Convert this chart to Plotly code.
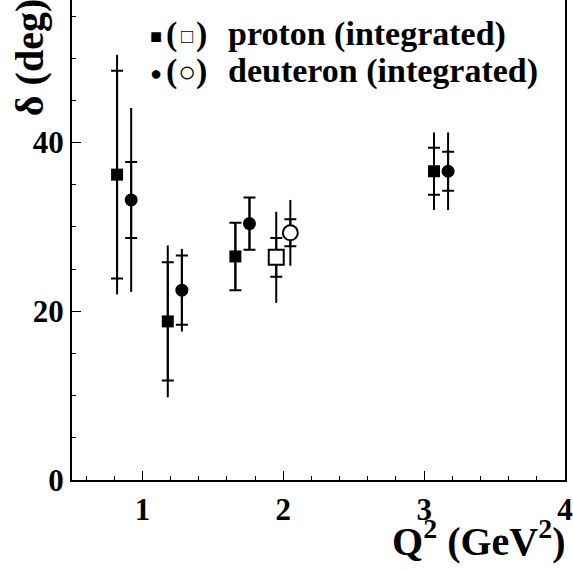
import plotly.graph_objects as go

# ---- data ----
proton_q2 = [0.82, 1.18, 1.66, 3.07]
proton_delta = [36.2, 18.8, 26.5, 36.6]
proton_stat = [12.3, 7.0, 4.0, 2.8]
proton_tot = [14.2, 9.0, 4.0, 4.6]

deuteron_q2 = [0.92, 1.28, 1.76, 3.17]
deuteron_delta = [33.2, 22.5, 30.4, 36.6]
deuteron_stat = [4.5, 4.1, 3.1, 2.3]
deuteron_tot = [10.9, 4.9, 3.1, 4.6]

proton_open_q2 = [1.95]
proton_open_delta = [26.4]
proton_open_stat = [2.3]
proton_open_tot = [5.4]

deuteron_open_q2 = [2.05]
deuteron_open_delta = [29.3]
deuteron_open_stat = [1.6]
deuteron_open_tot = [3.9]

x_tickvals = [1, 2, 3, 4]
y_tickvals = [0, 20, 40]

W, H = 573, 571
L, R, T, B = 72, 6, 0, 91
PW, PH = W - L - R, H - T - B

FONT = "Liberation Serif"


def px(xp):
    return (xp - L) / PW


def py(yp):
    return (H - B - yp) / PH


fig = go.Figure()


def add_series(xs, ys, stat, tot, symbol, size, fill, name):
    # total uncertainty: plain line without caps
    fig.add_trace(go.Scatter(
        x=xs, y=ys, mode="markers", marker=dict(size=0.1, color="rgba(0,0,0,0)"),
        error_y=dict(type="data", array=tot, visible=True, color="black", thickness=2, width=0),
        showlegend=False, hoverinfo="skip"))
    # statistical uncertainty: short cross bars + marker
    fig.add_trace(go.Scatter(
        x=xs, y=ys, mode="markers", name=name,
        marker=dict(symbol=symbol, size=size, color=fill,
                    line=dict(color="black", width=2 if fill == "white" else 0)),
        error_y=dict(type="data", array=stat, visible=True, color="black", thickness=2, width=6),
        showlegend=False))


add_series(proton_q2, proton_delta, proton_stat, proton_tot, "square", 12, "black", "proton")
add_series(deuteron_q2, deuteron_delta, deuteron_stat, deuteron_tot, "circle", 13, "black", "deuteron")
add_series(proton_open_q2, proton_open_delta, proton_open_stat, proton_open_tot, "square", 15, "white", "proton (open)")
add_series(deuteron_open_q2, deuteron_open_delta, deuteron_open_stat, deuteron_open_tot, "circle", 15, "white", "deuteron (open)")

tickfont = dict(family=FONT, size=31, color="black", weight="bold")

fig.update_xaxes(
    range=[0.5, 4], tickvals=x_tickvals, ticktext=[str(v) for v in x_tickvals],
    ticks="inside", ticklen=9, tickwidth=1, tickcolor="black",
    minor=dict(dtick=0.2, tick0=0, ticks="inside", ticklen=4, tickwidth=1, tickcolor="black"),
    showline=True, linecolor="black", linewidth=2, showgrid=False, zeroline=False,
    tickfont=tickfont, ticklabelstandoff=1, ticklabeloverflow="allow")
fig.update_yaxes(
    range=[0, 56.9], tickvals=y_tickvals, ticktext=[str(v) for v in y_tickvals],
    ticks="inside", ticklen=9, tickwidth=1, tickcolor="black",
    minor=dict(dtick=5, tick0=0, ticks="inside", ticklen=4, tickwidth=1, tickcolor="black"),
    showline=True, linecolor="black", linewidth=2, mirror=True, showgrid=False, zeroline=False,
    tickfont=tickfont, ticklabelstandoff=0, ticklabeloverflow="allow")

ann = []
# axis titles
ann.append(dict(x=px(570), y=py(538), xref="paper", yref="paper", xanchor="right", yanchor="middle",
                text="Q<sup>2</sup> (GeV<sup>2</sup>)", showarrow=False,
                font=dict(family=FONT, size=40, color="black", weight="bold")))
ann.append(dict(x=px(29), y=py(58), xref="paper", yref="paper", xanchor="center", yanchor="middle",
                text="δ (deg)", textangle=-90, showarrow=False,
                font=dict(family=FONT, size=40, color="black", weight="bold")))
# legend
legend_rows = [("■", "(", "□", 20, 0, ")", "proton (integrated)", 36),
               ("●", "(", "○", 30, 2, ")", "deuteron (integrated)", 73)]
for sym, lp, osym, osize, oshift, rp, label, yc in legend_rows:
    ann.append(dict(x=px(156), y=py(yc), xref="paper", yref="paper", xanchor="center", yanchor="middle",
                    text=sym, showarrow=False, font=dict(family=FONT, size=20, color="black")))
    ann.append(dict(x=px(164), y=py(yc - 2), xref="paper", yref="paper", xanchor="left", yanchor="middle",
                    text=lp, showarrow=False, font=dict(family=FONT, size=34, color="black", weight="bold")))
    ann.append(dict(x=px(187), y=py(yc - oshift), xref="paper", yref="paper", xanchor="center", yanchor="middle",
                    text=osym, showarrow=False, font=dict(family=FONT, size=osize, color="black")))
    ann.append(dict(x=px(210), y=py(yc - 2), xref="paper", yref="paper", xanchor="right", yanchor="middle",
                    text=rp, showarrow=False, font=dict(family=FONT, size=34, color="black", weight="bold")))
    ann.append(dict(x=px(227), y=py(yc - 2), xref="paper", yref="paper", xanchor="left", yanchor="middle",
                    text=label, showarrow=False, font=dict(family=FONT, size=34, color="black", weight="bold")))

fig.update_layout(
    width=W, height=H, margin=dict(l=L, r=R, t=T, b=B),
    paper_bgcolor="white", plot_bgcolor="white", annotations=ann, showlegend=False)

fig.write_html("out.html", config={"displayModeBar": False},
               post_script="document.body.style.margin='0px';")
